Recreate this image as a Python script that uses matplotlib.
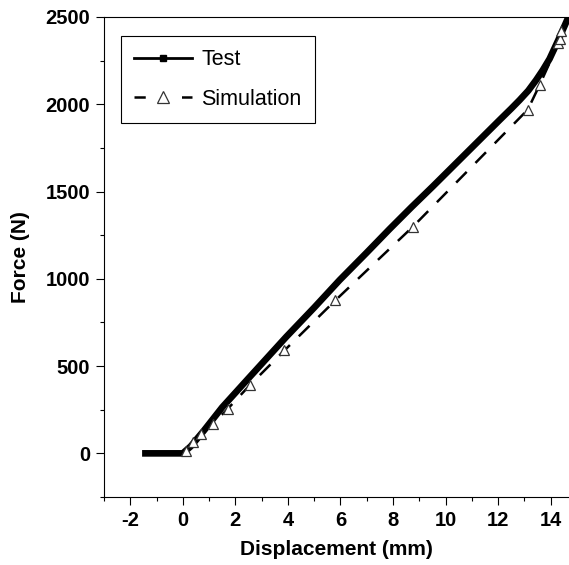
import matplotlib
matplotlib.use("Agg")
import matplotlib.pyplot as plt
from matplotlib.lines import Line2D
from matplotlib.ticker import MultipleLocator

plt.rcParams["font.family"] = ["Liberation Sans", "DejaVu Sans"]
plt.rcParams["axes.unicode_minus"] = False

# test curve
test_x = [-1.55, -1.0, -0.5, 0.0, 0.3, 0.8, 1.5, 2.5, 3.94, 5.0, 5.97, 7.0, 7.87,
          8.7, 9.52, 10.79, 12.06, 12.5, 12.82, 13.15, 13.45, 13.7, 13.96, 14.3,
          14.68, 14.8]
test_y = [0, 0, 0, 0, 40, 130, 264, 430, 668, 835, 993, 1150, 1285,
          1410, 1530, 1720, 1910, 1975, 2024, 2078, 2139, 2195, 2260, 2370,
          2500, 2540]

# simulation points
sim_x = [0.0, 0.13, 0.38, 0.7, 1.14, 1.71, 2.54, 3.87, 5.81, 8.76,
         13.13, 13.58, 14.3, 14.34, 14.4, 14.7]
sim_y = [0, 15, 63, 113, 169, 255, 389, 590, 877, 1299,
         1969, 2110, 2350, 2373, 2417, 2510]

xticks = [-2, 0, 2, 4, 6, 8, 10, 12, 14]
yticks = [0, 500, 1000, 1500, 2000, 2500]

W, H = 569, 565
fig = plt.figure(figsize=(W / 100, H / 100), dpi=100)
ax = fig.add_axes([104 / W, (H - 497) / H, (W - 104) / W, (497 - 17) / H])

ax.plot(test_x, test_y, color="black", lw=4.8, solid_capstyle="butt",
        solid_joinstyle="round", zorder=3)
ax.plot(sim_x, sim_y, color="black", lw=1.8, dashes=(6, 5), zorder=2)
ax.plot(sim_x[1:-1], sim_y[1:-1], ls="none", marker="^", ms=7.5, mfc="white",
        mec="#333333", mew=0.9, zorder=4)

ax.set_xlim(-3, 14.7)
ax.set_ylim(-250, 2500)
ax.set_xticks(xticks)
ax.set_yticks(yticks)
ax.xaxis.set_minor_locator(MultipleLocator(1))
ax.yaxis.set_minor_locator(MultipleLocator(250))
ax.tick_params(which="major", direction="out", length=5.5, width=0.8, pad=4.5,
               labelsize=14.5)
ax.tick_params(which="minor", direction="out", length=3, width=0.8)
for lab in ax.get_xticklabels() + ax.get_yticklabels():
    lab.set_fontweight("bold")
ax.spines["right"].set_visible(False)
for s in ["left", "bottom", "top"]:
    ax.spines[s].set_linewidth(0.8)

ax.set_xlabel("Displacement (mm)", fontsize=15, fontweight="bold", labelpad=7)
ax.set_ylabel("Force (N)", fontsize=15, fontweight="bold", labelpad=11)

handles = [
    Line2D([], [], color="black", lw=2, marker="s", ms=4.5),
    Line2D([], [], color="black", lw=1.8, dashes=(4.5, 14.5), marker="^", ms=8,
           mfc="white", mec="#333333", mew=0.9),
]
leg = ax.legend(handles, ["Test", "Simulation"], loc="upper left",
                bbox_to_anchor=(121 / W, 1 - 36 / H), bbox_transform=fig.transFigure,
                borderaxespad=0, fontsize=15.5, handlelength=2.7, handletextpad=0.4,
                labelspacing=0.85, borderpad=0.62, fancybox=False, framealpha=1,
                edgecolor="black", numpoints=1)
leg.get_frame().set_linewidth(0.8)

fig.savefig("out.png", dpi=100)
